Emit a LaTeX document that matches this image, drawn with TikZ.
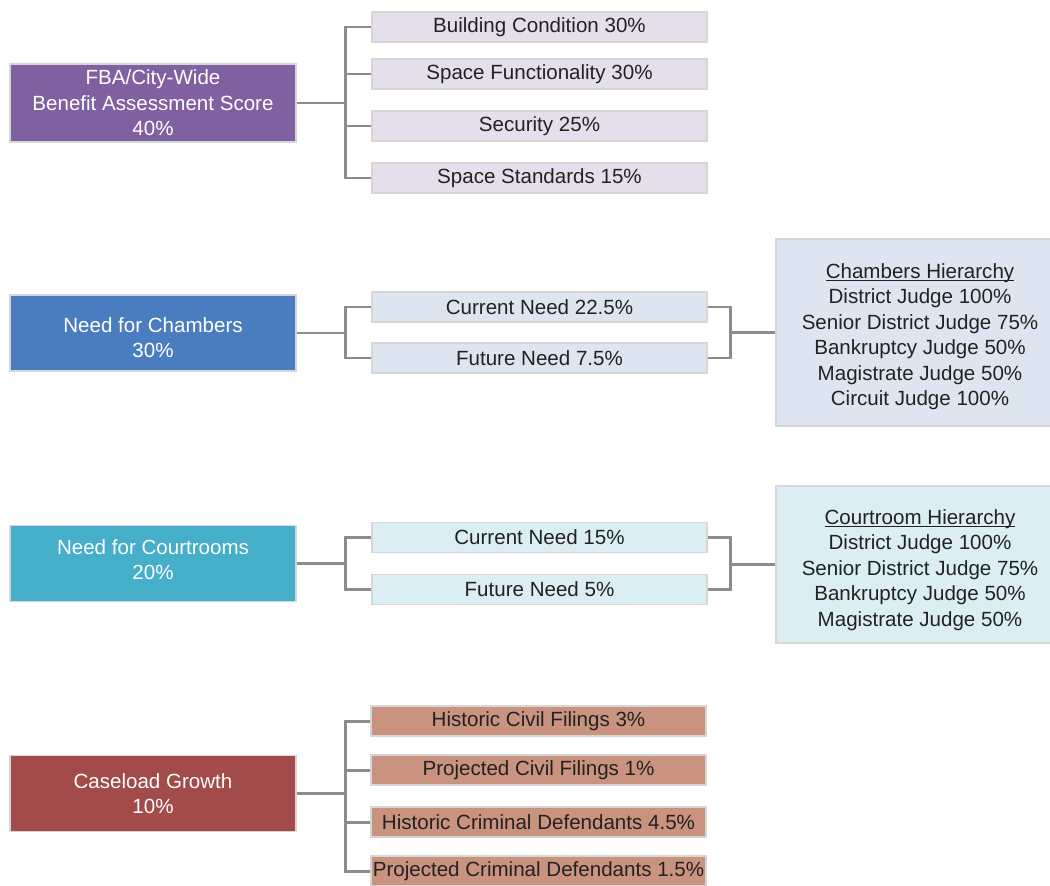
\documentclass[tikz,border=0pt]{standalone}
\usepackage{fontspec}
\setmainfont{Liberation Sans}
\usetikzlibrary{positioning}
\definecolor{fbapurple}{HTML}{7F60A0}
\definecolor{chamblue}{HTML}{4A7DC0}
\definecolor{courtaqua}{HTML}{45AEC8}
\definecolor{casered}{HTML}{A34B4B}
\definecolor{fbalight}{HTML}{E5DFEC}
\definecolor{chamlight}{HTML}{DCE5F0}
\definecolor{courtlight}{HTML}{DBEEF4}
\definecolor{caselight}{HTML}{C9937F}
\definecolor{boxline}{HTML}{D6D6D6}
\definecolor{linkgray}{HTML}{8C8C8C}
\definecolor{darktext}{HTML}{222222}
\newcommand{\hdline}[2]{\rule{0pt}{#1}\underline{\smash{#2}}\vphantom{#2}}

\begin{document}
\begin{tikzpicture}[x=0.02cm,y=-0.02cm,font=\fontsize{11.7}{14.5}\selectfont]
    \tikzset{main/.style={rectangle,draw=boxline,line width=1pt,text=white,align=center,minimum width=5.72cm,minimum height=1.52cm},
      sub/.style={rectangle,draw=boxline,line width=1pt,text=darktext,inner sep=0pt,minimum width=6.7cm,minimum height=0.6cm},
      hier/.style={rectangle,draw=boxline,line width=1pt,text=darktext,align=center,minimum width=5.76cm},
      link/.style={draw=linkgray,line width=1.7pt}}
    \useasboundingbox (0,0) rectangle (1050,885);
    % FBA score
    \node[main,fill=fbapurple] (fba) at (153,103) {FBA/City-Wide\\Benefit Assessment Score\\40\%};
    \node[sub,fill=fbalight] (bc) at (539.5,27) {Building Condition 30\%};
    \node[sub,fill=fbalight] (sf) at (539.5,74) {Space Functionality 30\%};
    \node[sub,fill=fbalight] (sec) at (539.5,126) {Security 25\%};
    \node[sub,fill=fbalight] (ss) at (539.5,178) {Space Standards 15\%};
    \foreach \n in {bc,sf,sec,ss}
      \draw[link] (fba.east) -- ++(49,0) |- (\n.west);
    % chambers
    \node[main,fill=chamblue] (cham) at (153,333) {\rule{0pt}{14pt}Need for Chambers\\30\%};
    \node[sub,fill=chamlight] (chcur) at (539.5,307) {Current Need 22.5\%};
    \node[sub,fill=chamlight] (chfut) at (539.5,358) {Future Need 7.5\%};
    \node[hier,fill=chamlight,minimum height=3.74cm] (chh) at (920,332.5)
      {\hdline{13pt}{Chambers Hierarchy}\\District Judge 100\%\\Senior District Judge 75\%\\Bankruptcy Judge 50\%\\Magistrate Judge 50\%\\Circuit Judge 100\%};
    \foreach \n in {chcur,chfut}{
      \draw[link] (cham.east) -- ++(49,0) |- (\n.west);
      \draw[link] (chh.west) -- ++(-45,0) |- (\n.east);
    }
    % courtrooms
    \node[main,fill=courtaqua] (court) at (153,563.5) {Need for Courtrooms\\20\%\rule[-4.6pt]{0pt}{1pt}};
    \node[sub,fill=courtlight] (cocur) at (539.5,537.5) {Current Need 15\%};
    \node[sub,fill=courtlight] (cofut) at (539.5,589.5) {Future Need 5\%};
    \node[hier,fill=courtlight,minimum height=3.14cm] (coh) at (920,564.5)
      {\hdline{14.5pt}{Courtroom Hierarchy}\\District Judge 100\%\\Senior District Judge 75\%\\Bankruptcy Judge 50\%\\Magistrate Judge 50\%};
    \foreach \n in {cocur,cofut}{
      \draw[link] (court.east) -- ++(49,0) |- (\n.west);
      \draw[link] (coh.west) -- ++(-45,0) |- (\n.east);
    }
    % caseload
    \node[main,fill=casered] (case) at (153,793.5) {Caseload Growth\\10\%};
    \node[sub,fill=caselight] (hcf) at (538.5,721) {Historic Civil Filings 3\%};
    \node[sub,fill=caselight] (pcf) at (538.5,770) {Projected Civil Filings 1\%};
    \node[sub,fill=caselight] (hcd) at (538.5,822) {Historic Criminal Defendants 4.5\%};
    \node[sub,fill=caselight] (pcd) at (538.5,871) {Projected Criminal Defendants 1.5\%};
    \foreach \n in {hcf,pcf,hcd,pcd}
      \draw[link] (case.east) -- ++(49,0) |- (\n.west);
  \end{tikzpicture}
\end{document}
